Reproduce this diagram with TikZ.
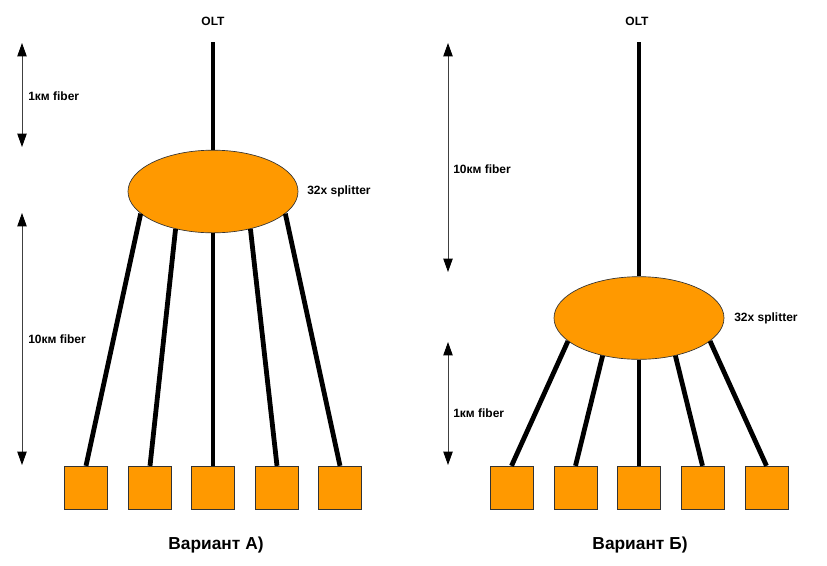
\documentclass[tikz,border=0pt]{standalone}
\usepackage{fontspec}
\setmainfont{Liberation Sans}
\usetikzlibrary{shapes.geometric,arrows.meta}
\definecolor{ponorange}{RGB}{255,153,0}
\tikzset{
  splitter/.style={ellipse,draw=black!80,line width=0.5pt,fill=ponorange,minimum width=127.5pt,minimum height=62pt,inner sep=0pt},
  onu/.style={rectangle,draw=black!80,line width=0.5pt,fill=ponorange,minimum size=32pt,inner sep=0pt},
  fiber/.style={line width=3.6pt},
  lenarrow/.style={draw=black!75,line width=0.7pt,{Triangle[length=10pt,width=7pt,color=black]}-{Triangle[length=10pt,width=7pt,color=black]}},
  lbl/.style={font=\bfseries\fontsize{9}{10}\selectfont,inner sep=0.75pt},
  caption/.style={font=\bfseries\fontsize{13}{15}\selectfont,inner sep=0.75pt}
}
\begin{document}
\begin{tikzpicture}[x=0.75pt,y=0.75pt,yscale=-1,xscale=1]
\useasboundingbox (0,0) rectangle (827,565);

%Variant A
% Text Node
\node [lbl] (oltA) at (213,21) {OLT};
\coordinate (feedA) at (213,42);
%Shape: Ellipse
\node [splitter] (splA) at (213,191.5) {};
\node [lbl,anchor=west] (splAlbl) at (306,191) {32x splitter};
%Shape: Square
\node [onu] (a1) at (86,487.5) {};
\node [onu] (a2) at (150,487.5) {};
\node [onu] (a3) at (213,487.5) {};
\node [onu] (a4) at (277,487.5) {};
\node [onu] (a5) at (340,487.5) {};
%Straight Lines
\draw [fiber] (feedA) -- (splA.north);
\draw [fiber] (splA.197) -- (a1.north);
\draw [fiber] (splA.225) -- (a2.north);
\draw [fiber] (splA.270) -- (a3.north);
\draw [fiber] (splA.315) -- (a4.north);
\draw [fiber] (splA.343) -- (a5.north);
%Dimension arrows
\coordinate (dA1t) at (22,43);
\coordinate (dA1b) at (22,147);
\coordinate (dA2t) at (22,213);
\coordinate (dA2b) at (22,465);
\draw [lenarrow] (dA1t) -- (dA1b);
\draw [lenarrow] (dA2t) -- (dA2b);
% Text Node
\node [lbl,anchor=west] (dA1lbl) at (27,96) {1км fiber};
\node [lbl,anchor=west] (dA2lbl) at (27,339) {10км fiber};
\node [caption] (capA) at (216,545) {Вариант А)};

%Variant B
% Text Node
\node [lbl] (oltB) at (637,21) {OLT};
\coordinate (feedB) at (639,42);
%Shape: Ellipse
\node [splitter] (splB) at (639,318) {};
\node [lbl,anchor=west] (splBlbl) at (733,318) {32x splitter};
%Shape: Square
\node [onu] (b1) at (511.5,487.5) {};
\node [onu] (b2) at (575.5,487.5) {};
\node [onu] (b3) at (639,487.5) {};
\node [onu] (b4) at (702.5,487.5) {};
\node [onu] (b5) at (766.5,487.5) {};
%Straight Lines
\draw [fiber] (feedB) -- (splB.north);
\draw [fiber] (splB.198) -- (b1.north);
\draw [fiber] (splB.226) -- (b2.north);
\draw [fiber] (splB.270) -- (b3.north);
\draw [fiber] (splB.314) -- (b4.north);
\draw [fiber] (splB.342) -- (b5.north);
%Dimension arrows
\coordinate (dB1t) at (448,43);
\coordinate (dB1b) at (448,272);
\coordinate (dB2t) at (448,342);
\coordinate (dB2b) at (448,465);
\draw [lenarrow] (dB1t) -- (dB1b);
\draw [lenarrow] (dB2t) -- (dB2b);
% Text Node
\node [lbl,anchor=west] (dB1lbl) at (452,169) {10км fiber};
\node [lbl,anchor=west] (dB2lbl) at (452,413) {1км fiber};
\node [caption] (capB) at (640,545) {Вариант Б)};

\end{tikzpicture}
\end{document}
